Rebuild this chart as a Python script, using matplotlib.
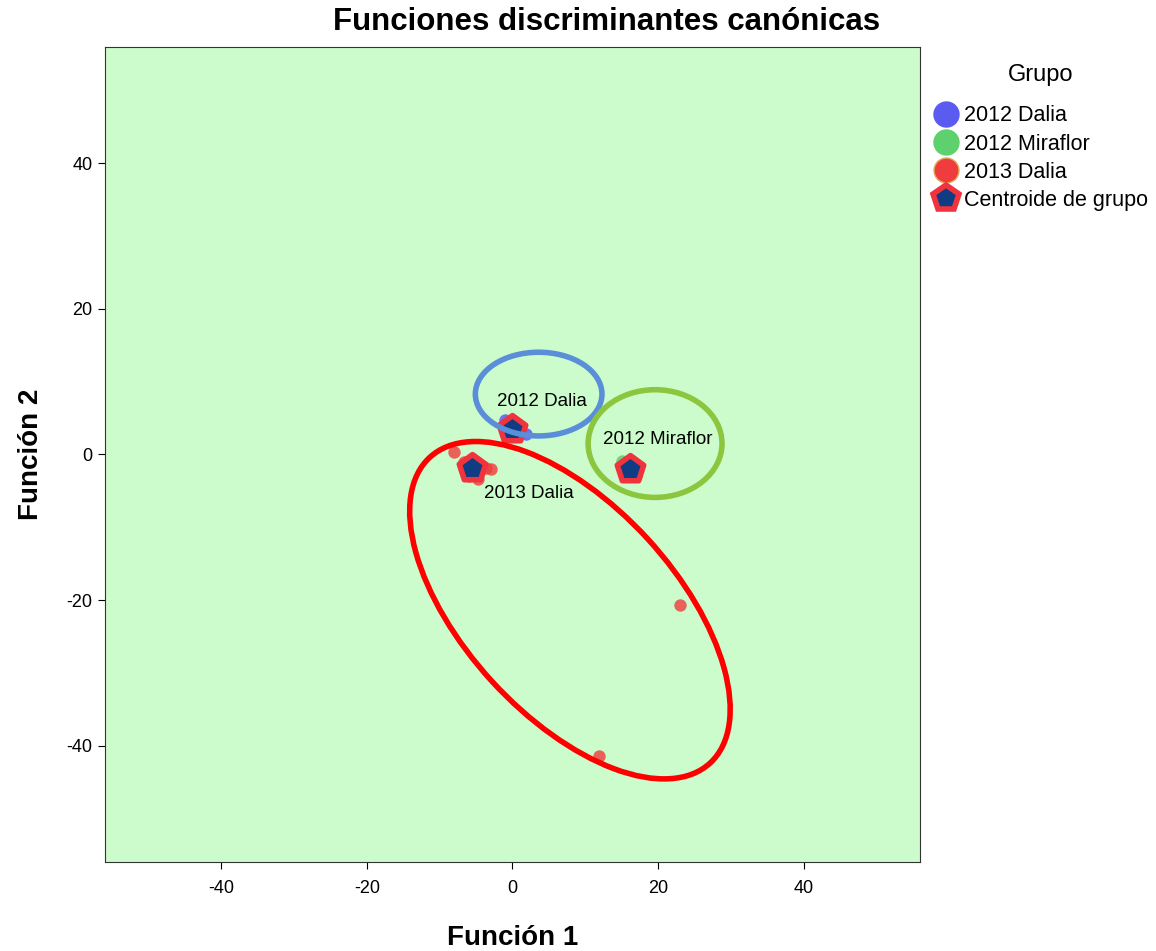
import matplotlib
matplotlib.use("Agg")
import matplotlib.pyplot as plt
from matplotlib.patches import Ellipse
from matplotlib.lines import Line2D

plt.rcParams["font.family"] = ["Liberation Sans", "DejaVu Sans"]
plt.rcParams["axes.unicode_minus"] = False

# canonical discriminant scores per group (Función 1, Función 2)
dalia12_f1 = [-1.0, 0.0, 1.0, 1.8, -0.5, 0.5]
dalia12_f2 = [4.8, 3.5, 3.0, 2.8, 3.8, 4.0]
mira12_f1 = [15.0, 16.0, 17.0, 16.6, 15.5]
mira12_f2 = [-0.9, -2.0, -3.0, -2.6, -1.4]
dalia13_f1 = [-8.1, -6.7, -6.2, -3.7, -3.0, -4.7, -6.0, -4.8, 23.0, 11.9]
dalia13_f2 = [0.3, -1.0, -1.5, -1.8, -2.0, -3.4, -2.9, -2.6, -20.7, -41.5]

groups = ["2012 Dalia", "2012 Miraflor", "2013 Dalia"]
centroid_f1 = [0.0, 16.2, -5.6]
centroid_f2 = [3.5, -2.0, -1.9]

# hand-drawn group outlines: center x, center y, width, height, angle
outline_cx = [3.6, 19.6, 7.9]
outline_cy = [8.3, 1.5, -21.4]
outline_w = [17.4, 18.4, 57.0]
outline_h = [11.5, 14.8, 29.0]
outline_ang = [0, 0, -47.5]
outline_col = ["#5b8ed8", "#8cc63e", "#ff0000"]

label_x = [4.0, 20.0, 2.2]
label_y = [7.3, 2.0, -5.4]

fig = plt.figure(figsize=(11.56, 9.51), dpi=100)
ax = fig.add_axes([0.0908, 0.0936, 0.705, 0.857])
ax.set_facecolor("#ccfccc")

pt_size = 80
ax.scatter(dalia12_f1, dalia12_f2, s=pt_size, color="#5b5bf2", alpha=0.85, lw=0)
ax.scatter(mira12_f1, mira12_f2, s=pt_size, color="#5fd06e", alpha=0.85, lw=0)
ax.scatter(dalia13_f1, dalia13_f2, s=pt_size, color="#f03c3c", alpha=0.8, lw=0)
ax.scatter(centroid_f1, centroid_f2, s=400, marker="p", color="#0f3c82",
           edgecolors="#f0333c", linewidths=4, zorder=4)

for i in range(3):
    ax.add_patch(Ellipse((outline_cx[i], outline_cy[i]), outline_w[i], outline_h[i],
                         angle=outline_ang[i], fill=False, ec=outline_col[i], lw=4, zorder=5))
    ax.text(label_x[i], label_y[i], groups[i], ha="center", va="center",
            fontsize=13.5, zorder=6)

ax.set_xlim(-56, 56)
ax.set_ylim(-56, 56)
ax.set_xticks([-40, -20, 0, 20, 40])
ax.set_yticks([-40, -20, 0, 20, 40])
ax.tick_params(labelsize=13, length=5, direction="out", pad=8)
ax.tick_params(axis="y", pad=4)
for s in ax.spines.values():
    s.set_color("#333333")

ax.set_xlabel("Función 1", fontsize=20, fontweight="bold", labelpad=20)
ax.set_ylabel("Función 2", fontsize=20, fontweight="bold", labelpad=16)
fig.text(607 / 1156, 1 - 22 / 951, "Funciones discriminantes canónicas",
         fontsize=22.5, fontweight="bold", ha="center", va="center")

handles = [
    Line2D([], [], ls="", marker="o", ms=18, color="#5b5bf2", mec="#5b5bf2"),
    Line2D([], [], ls="", marker="o", ms=18, color="#5fd06e", mec="#5fd06e"),
    Line2D([], [], ls="", marker="o", ms=18, color="#f03c3c", mec="#d8b060"),
    Line2D([], [], ls="", marker="p", ms=19, color="#0f3c82", mec="#f0333c", mew=4),
]
leg = fig.legend(handles, groups + ["Centroide de grupo"], title="Grupo",
                 loc="upper left", bbox_to_anchor=(932 / 1156, 1 - 64 / 951),
                 frameon=False, fontsize=15.5, title_fontsize=17,
                 handletextpad=0.2, labelspacing=0.33, handlelength=1.3,
                 borderaxespad=0, borderpad=0)
leg._legend_box.sep = 14

fig.savefig("out.png", dpi=100)
